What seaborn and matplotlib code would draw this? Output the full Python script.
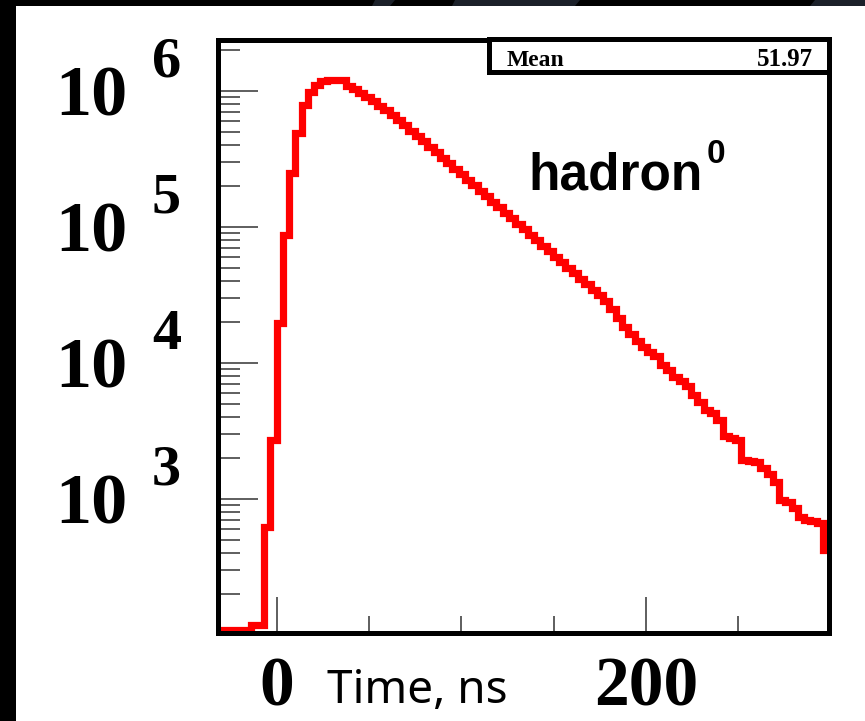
import numpy as np
import pandas as pd
import matplotlib
matplotlib.use("Agg")
import matplotlib.pyplot as plt
import matplotlib.transforms as mtransforms
from matplotlib.patches import Rectangle, Polygon
from matplotlib.ticker import FixedLocator, LogLocator, NullFormatter
import seaborn as sns

# ---------------- data ----------------
# counts per 3.4 ns bin, first bin starting at -34 ns
counts = [
    108, 108, 108, 108, 108, 108,          # empty bins drawn on the floor
    118, 118, 617, 2680,
    19600, 86900, 248000, 489000, 785000, 978000, 1100000, 1170000,
    1200000, 1200000, 1200000, 1080000, 1030000, 962000, 899000, 840000,
    772000, 721000, 663000, 609000, 560000, 505000, 464000, 427000,
    385000, 354000, 320000, 294000, 266000, 244000, 221000, 203000,
    183000, 168000, 152000, 140000, 126000, 116000, 105000, 96200,
    86900, 79800, 72100, 66300, 59900, 55000, 49700, 45700,
    41200, 37900, 34200, 31500, 28400, 24800, 21300, 18300,
    16300, 14400, 13000, 12000, 11200, 9620, 8840, 7850,
    7330, 6740, 5790, 5140, 4490, 4270, 3790, 2890,
    2790, 2700, 1930, 1890, 1860, 1680, 1520, 1330,
    978, 946, 854, 733, 697, 686, 663, 420,
]
first_edge = -34.0
bin_width = 3.4

x_tick_values = [0, 200]
x_tick_labels = ["0", "200"]
x_minor_values = [50, 100, 150, 250]
y_tick_values = [1e3, 1e4, 1e5, 1e6]
y_tick_exponents = ["3", "4", "5", "6"]
x_label = "Time, ns"
stat_name = "Mean"
stat_value = "51.97"
title_text = "hadron"
title_sup = "0"

# ---------------- figure ----------------
sns.set_style("ticks")
plt.rcParams["font.family"] = ["DejaVu Sans"]

W, H = 865, 721
fig = plt.figure(figsize=(W / 100, H / 100), dpi=100, facecolor="black")
# white slide panel
fig.patches.append(Rectangle((16 / W, 0), 1, (H - 6) / H, transform=fig.transFigure,
                             facecolor="white", edgecolor="none", zorder=-1))
for pts in ([(375, 0), (395, 0), (390, 6), (372, 6)],
            [(455, 0), (580, 0), (575, 6), (452, 6)],
            [(815, 0), (865, 0), (865, 6), (810, 6)]):
    fig.patches.append(Polygon([(x / W, 1 - y / H) for x, y in pts], closed=True,
                               transform=fig.transFigure, facecolor="#1b2029",
                               edgecolor="none", zorder=-1))

ax_l, ax_r, ax_t, ax_b = 218.4, 828.6, 39.5, 632.5
ax = fig.add_axes([ax_l / W, (H - ax_b) / H, (ax_r - ax_l) / W, (ax_b - ax_t) / H])
ax.set_facecolor("white")

edges = [first_edge + bin_width * i for i in range(len(counts) + 1)]
centers = [e + bin_width / 2 for e in edges[:-1]]
df = pd.DataFrame({"time": centers, "n": counts})

sns.histplot(data=df, x="time", weights="n", bins=edges, element="step", fill=False,
             color="#ff0000", linewidth=5.2, ax=ax,
             solid_joinstyle="miter", solid_capstyle="butt")

ax.set_yscale("log")
ax.set_xlim(-31.45, 298.8)
ax.set_ylim(103.8, 2.38e6)
ax.set_xlabel("")
ax.set_ylabel("")

for s in ax.spines.values():
    s.set_linewidth(3.6)
    s.set_color("black")
    s.set_visible(True)

ax.xaxis.set_major_locator(FixedLocator(x_tick_values))
ax.xaxis.set_minor_locator(FixedLocator(x_minor_values))
ax.yaxis.set_major_locator(FixedLocator(y_tick_values))
ax.yaxis.set_minor_locator(LogLocator(base=10, subs=range(2, 10), numticks=20))
ax.yaxis.set_minor_formatter(NullFormatter())
ax.tick_params(axis="x", which="major", direction="in", length=26, width=1.1,
               color="#333333", labelbottom=False, top=False)
ax.tick_params(axis="x", which="minor", direction="in", length=12.6, width=1.1,
               color="#333333", top=False)
ax.tick_params(axis="y", which="major", direction="in", length=28.5, width=1.1,
               color="#333333", labelleft=False, right=False)
ax.tick_params(axis="y", which="minor", direction="in", length=15.5, width=1.1,
               color="#333333", right=False)

serif_bold = dict(family="Liberation Serif", fontweight="bold", color="black")

# y tick labels: "10" + exponent
ytrans = mtransforms.blended_transform_factory(ax.transAxes, ax.transData)
base_tr = mtransforms.offset_copy(ytrans, fig=fig, y=-25.0, units="dots")
sup_tr = mtransforms.offset_copy(ytrans, fig=fig, y=14.0, units="dots")
x_base = (128 - ax_l) / (ax_r - ax_l)
x_sup = (152 - ax_l) / (ax_r - ax_l)
for v, e in zip(y_tick_values, y_tick_exponents):
    ax.text(x_base, v, "10", transform=base_tr, ha="right", va="baseline",
            fontsize=52, clip_on=False, **serif_bold)
    ax.text(x_sup, v, e, transform=sup_tr, ha="left", va="baseline",
            fontsize=42, clip_on=False, **serif_bold)

# x tick labels
xtrans = mtransforms.blended_transform_factory(ax.transData, ax.transAxes)
y_lab = (ax_b - 705) / (ax_b - ax_t)
for v, lab in zip(x_tick_values, x_tick_labels):
    ax.text(v, y_lab, lab, transform=xtrans, ha="center", va="baseline",
            fontsize=50, clip_on=False, **serif_bold)

# axis title
fig.text(417.5 / W, 1 - 703 / H, x_label, ha="center", va="baseline",
         family="Noto Sans", fontsize=33, color="black")

# stats box
bx0 = (489 - ax_l) / (ax_r - ax_l)
by0 = (ax_b - 72) / (ax_b - ax_t)
ax.add_patch(Rectangle((bx0, by0), 1 - bx0, 1 - by0, transform=ax.transAxes,
                       facecolor="white", edgecolor="black", linewidth=3.6,
                       clip_on=False, zorder=5))
fig.text(507 / W, 1 - 65.5 / H, stat_name, ha="left", va="baseline",
         fontsize=17, **serif_bold)
fig.text(813 / W, 1 - 65.5 / H, stat_value, ha="right", va="baseline",
         fontsize=18, **serif_bold)

# label
fig.text(528 / W, 1 - 190 / H, title_text, ha="left", va="baseline",
         family="Liberation Sans", fontweight="bold", fontsize=37, color="black")
fig.text(707 / W, 1 - 163 / H, title_sup, ha="left", va="baseline",
         family="Liberation Sans", fontweight="bold", fontsize=24, color="black")

fig.savefig("out.png", dpi=100, facecolor=fig.get_facecolor())
